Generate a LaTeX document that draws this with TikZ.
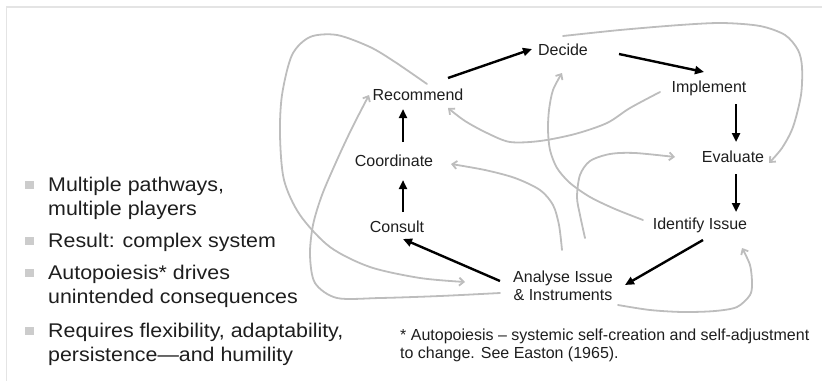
\documentclass[tikz,border=0pt]{standalone}
\usepackage{fontspec}
\setmainfont{Liberation Sans}
\newfontfamily\pointfont{Liberation Sans}[FakeStretch=1.08]
\usetikzlibrary{arrows.meta}
\definecolor{ink}{HTML}{1E1E1E}
\definecolor{flowgrey}{HTML}{BDBDBD}
\definecolor{framegrey}{HTML}{E4E4E4}
\definecolor{bulletgrey}{HTML}{CCCCCC}

\begin{document}
\begin{tikzpicture}[x=1pt,y=-1pt,
  stage/.style={anchor=base, inner sep=0pt, text=ink, font=\fontsize{16}{18}\selectfont},
  mainflow/.style={draw=black, line width=2.4pt, -{Triangle[length=9pt,width=8pt]}},
  sideflow/.style={draw=flowgrey, line width=1.8pt, line cap=round,
                   -{Straight Barb[length=4.5pt,width=8pt]}},
  point/.style={anchor=base west, inner sep=0pt, text=ink,
                font=\pointfont\fontsize{19.8}{24}\selectfont},
  bulletbox/.style={fill=bulletgrey, minimum size=8.5pt, inner sep=0pt}]

\useasboundingbox (0,0) rectangle (822,381);

% slide frame
\draw[framegrey, line width=1.6pt] (6.5,381) -- (6.5,7) -- (822,7);

% bullet list
\node[bulletbox] (b1) at (29.5,185) {};
\node[point] (p1) at (48,191) {\begin{tabular}[t]{@{}l@{}}Multiple pathways,\\multiple players\end{tabular}};
\node[bulletbox] (b2) at (29.5,241) {};
\node[point] (p2) at (48,247) {Result: complex system};
\node[bulletbox] (b3) at (29.5,273) {};
\node[point] (p3) at (48,279) {\begin{tabular}[t]{@{}l@{}}Autopoiesis* drives\\unintended consequences\end{tabular}};
\node[bulletbox] (b4) at (29.5,331) {};
\node[point] (p4) at (48,337) {\begin{tabular}[t]{@{}l@{}}Requires flexibility, adaptability,\\persistence—and humility\end{tabular}};

% policy cycle stages
\node[stage] (dec) at (563,55) {Decide};
\node[stage] (imp) at (709,92) {Implement};
\node[stage] (rec) at (418,100) {Recommend};
\node[stage] (coo) at (394,166) {Coordinate};
\node[stage] (eva) at (733,162) {Evaluate};
\node[stage] (con) at (397,232) {Consult};
\node[stage] (ide) at (700,229) {Identify Issue};
\node[stage] (ana) at (563,282) {\begin{tabular}[t]{@{}c@{}}Analyse Issue\\\& Instruments\end{tabular}};

% footnote
\node[stage, anchor=base west] (note) at (400,340)
  {\begin{tabular}[t]{@{}l@{}}* Autopoiesis – systemic self-creation and self-adjustment\\to change. See Easton (1965).\end{tabular}};

% main cycle
\draw[mainflow] ([shift={(30,-22)}]rec.base) -- ([shift={(-31,-6)}]dec.base);
\draw[mainflow] ([shift={(56,-1)}]dec.base) -- ([shift={(-5,-20)}]imp.base);
\draw[mainflow] ([shift={(27,12)}]imp.base) -- ([shift={(3,-20)}]eva.base);
\draw[mainflow] ([shift={(3,12)}]eva.base) -- ([shift={(36,-17)}]ide.base);
\draw[mainflow] ([shift={(3,11)}]ide.base) -- ([shift={(62,3)}]ana.base);
\draw[mainflow] ([shift={(-63,-1)}]ana.base) -- ([shift={(6,7)}]con.base);
\draw[mainflow] ([shift={(6,-20)}]con.base) -- ([shift={(9,14)}]coo.base);
\draw[mainflow] ([shift={(9,-24)}]coo.base) -- ([shift={(-15,9)}]rec.base);

% side pathways
\draw[sideflow] plot[smooth] coordinates {([shift={(9,-16)}]rec.base) (395,62) (370,47) (337,35) (310,37) (292,55) (282,95) (280,135) (284,180) (300,215) (330,247) (370,267) (420,278) ([shift={(-98,0)}]ana.base)};
\draw[sideflow] plot[smooth] coordinates {([shift={(-63,11)}]ana.base) (440,296) (380,298) (337,298) (315,283) (310,255) (313,225) (322,195) (337,160) (352,128) ([shift={(-49,-5)}]rec.base)};
\draw[sideflow] plot[smooth] coordinates {([shift={(-49,0)}]imp.base) (630,108) (607,123) (575,134) (540,141) (510,142) (487,133) (465,121) ([shift={(30,8)}]rec.base)};
\draw[sideflow] plot[smooth] coordinates {([shift={(-1,-32)}]ana.base) (559,225) (553,205) (540,190) (515,178) (485,170) ([shift={(57,-2)}]coo.base)};
\draw[sideflow] plot[smooth] coordinates {([shift={(-57,-9)}]ide.base) (615,209) (590,197) (570,183) (557,168) (550,150) (548,130) (549,110) (553,90) ([shift={(-1,18)}]dec.base)};
\draw[sideflow] plot[smooth] coordinates {([shift={(22,-44)}]ana.base) (580,215) (577,197) (580,175) (590,161) (610,154) (635,153) ([shift={(-58,-5)}]eva.base)};
\draw[sideflow] plot[smooth] coordinates {([shift={(0,-19)}]dec.base) (620,30) (680,25) (722,23) (760,26) (785,35) (798,50) (802,67) (801,95) (793,127) (782,148) ([shift={(36,1)}]eva.base)};
\draw[sideflow] plot[smooth] coordinates {([shift={(55,23)}]ana.base) (650,310) (683,312) (715,311) (737,307) (750,295) (752,283) (750,265) ([shift={(42,19)}]ide.base)};

\end{tikzpicture}
\end{document}
